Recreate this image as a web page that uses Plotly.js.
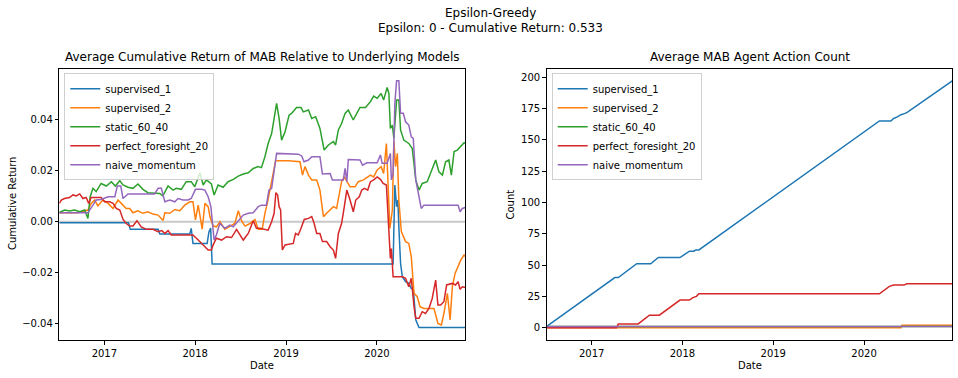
<!DOCTYPE html>
<html>
<head>
<meta charset="utf-8">
<script src="https://cdn.plot.ly/plotly-3.0.1.min.js"></script>
<style>html,body{margin:0;padding:0;background:#fff;}#chart{width:958px;height:378px;}</style>
</head>
<body>
<div id="chart"></div>
<script>
// ---------- DATA ----------
const seriesNames = ['supervised_1', 'supervised_2', 'static_60_40', 'perfect_foresight_20', 'naive_momentum'];
const seriesColors = ['#1f77b4', '#ff7f0e', '#2ca02c', '#d62728', '#9467bd'];

const suptitleLine1 = 'Epsilon-Greedy';
const suptitleLine2 = 'Epsilon: 0 - Cumulative Return: 0.533';
const leftTitle = 'Average Cumulative Return of MAB Relative to Underlying Models';
const rightTitle = 'Average MAB Agent Action Count';
const xLabel = 'Date';
const leftYLabel = 'Cumulative Return';
const rightYLabel = 'Count';
const dateRange = ['2016-07-04', '2020-12-21'];
const yearTicks = ['2017-01-01', '2018-01-01', '2019-01-01', '2020-01-01'];
const yearTickText = ['2017', '2018', '2019', '2020'];
const retTicks = [-0.04, -0.02, 0.00, 0.02, 0.04];
const cntTicks = [0, 25, 50, 75, 100, 125, 150, 175, 200];

// Left: cumulative return relative to models
const sup1Dates = ['2016-07-04','2017-04-08','2017-04-15','2017-08-05','2017-08-12','2017-12-10','2017-12-16','2017-12-23','2018-02-18','2018-02-25','2018-03-04','2018-03-10','2020-03-06','2020-03-13','2020-03-20','2020-03-25','2020-03-29','2020-04-05','2020-04-12','2020-04-25','2020-05-08','2020-05-18','2020-05-26','2020-06-05','2020-06-18','2020-12-21'];
const sup1Ret = [-0.0004,-0.0004,-0.003,-0.003,-0.0048,-0.0048,-0.0026,-0.0085,-0.0085,-0.004,-0.0025,-0.0166,-0.0166,0.0144,0.0059,0.0085,-0.002,-0.0164,-0.0216,-0.0235,-0.0242,-0.0262,-0.0262,-0.0385,-0.0415,-0.0415];

const sup2Dates = ['2016-07-04','2016-09-15','2016-10-27','2016-11-09','2016-11-23','2016-12-06','2016-12-26','2017-01-16','2017-02-05','2017-02-25','2017-03-10','2017-03-30','2017-04-13','2017-04-26','2017-05-16','2017-06-05','2017-06-25','2017-07-15','2017-08-05','2017-08-25','2017-09-01','2017-09-21','2017-10-11','2017-10-31','2017-11-20','2017-12-10','2017-12-23','2018-01-02','2018-01-13','2018-01-24','2018-01-29','2018-02-09','2018-02-22','2018-03-01','2018-03-14','2018-03-27','2018-04-10','2018-04-30','2018-05-20','2018-06-09','2018-06-23','2018-07-06','2018-07-20','2018-08-09','2018-08-29','2018-09-11','2018-09-27','2018-10-08','2018-10-19','2018-11-01','2018-11-10','2018-11-20','2019-01-10','2019-02-26','2019-03-08','2019-03-18','2019-04-01','2019-04-14','2019-05-04','2019-05-17','2019-05-31','2019-06-13','2019-06-27','2019-07-10','2019-07-23','2019-07-30','2019-08-12','2019-08-23','2019-09-02','2019-09-15','2019-10-05','2019-10-18','2019-11-08','2019-12-06','2019-12-19','2020-01-02','2020-01-18','2020-01-28','2020-02-08','2020-02-18','2020-02-22','2020-03-03','2020-03-09','2020-03-16','2020-03-23','2020-03-29','2020-04-08','2020-04-25','2020-05-08','2020-05-18','2020-05-29','2020-06-11','2020-06-22','2020-07-08','2020-08-17','2020-09-02','2020-09-16','2020-09-26','2020-10-10','2020-10-21','2020-10-30','2020-11-10','2020-11-22','2020-12-03','2020-12-16','2020-12-21'];
const sup2Ret = [0.0035,0.0035,0.0046,0.0072,0.0085,0.0062,0.0085,0.0072,0.0052,0.0085,0.0072,0.0052,0.0052,0.0035,0.0043,0.0033,0.0039,0.003,0.0026,0.0005,0.0035,0.0033,0.0048,0.0043,0.0065,0.0078,0.0078,0.0007,0.0065,-0.0007,-0.0029,0.0072,0.0059,0.002,-0.0017,-0.002,0.0,-0.003,-0.002,-0.0007,0.0043,0.0004,-0.0017,-0.0007,0.0009,-0.003,-0.003,0.0033,0.0078,0.0137,0.0189,0.0239,0.0239,0.0235,0.0183,0.0216,0.0183,0.0164,0.0164,0.0124,0.002,0.0033,0.0046,0.0059,0.0052,0.0091,0.0157,0.0176,0.0157,0.0137,0.0137,0.0157,0.0164,0.0183,0.0176,0.0203,0.0216,0.0189,0.0307,0.0085,-0.0026,0.0046,0.0318,0.0216,0.0268,0.0085,-0.0039,-0.0078,-0.0085,-0.0137,-0.0281,-0.0294,-0.0333,-0.034,-0.034,-0.0399,-0.0405,-0.036,-0.0281,-0.0385,-0.0255,-0.0203,-0.0176,-0.015,-0.0131,-0.0137];

const staticDates = ['2016-07-04','2016-07-25','2016-08-14','2016-09-04','2016-09-24','2016-10-14','2016-10-27','2016-11-05','2016-11-16','2016-11-29','2016-12-19','2017-01-09','2017-01-29','2017-02-14','2017-03-04','2017-03-17','2017-04-06','2017-04-26','2017-05-16','2017-06-05','2017-06-25','2017-07-22','2017-08-11','2017-08-24','2017-09-01','2017-09-14','2017-10-04','2017-10-17','2017-11-06','2017-11-26','2017-12-16','2017-12-30','2018-01-20','2018-02-02','2018-02-15','2018-03-07','2018-03-18','2018-04-03','2018-04-23','2018-05-13','2018-06-03','2018-06-23','2018-07-13','2018-08-02','2018-08-22','2018-09-11','2018-09-24','2018-10-08','2018-10-21','2018-11-04','2018-11-24','2018-12-04','2018-12-14','2018-12-28','2019-01-13','2019-01-23','2019-02-12','2019-03-02','2019-03-11','2019-04-01','2019-04-14','2019-04-30','2019-05-17','2019-06-03','2019-06-20','2019-07-10','2019-07-19','2019-07-30','2019-08-12','2019-08-26','2019-09-08','2019-09-28','2019-10-12','2019-10-25','2019-11-16','2019-12-06','2019-12-19','2020-01-02','2020-01-18','2020-01-28','2020-02-11','2020-02-18','2020-02-24','2020-03-03','2020-03-09','2020-03-20','2020-03-29','2020-04-05','2020-04-18','2020-05-08','2020-05-22','2020-06-05','2020-06-18','2020-07-01','2020-07-21','2020-08-04','2020-08-24','2020-09-06','2020-09-20','2020-10-03','2020-10-16','2020-10-26','2020-11-06','2020-11-19','2020-12-03','2020-12-16','2020-12-21'];
const staticRet = [0.0036,0.0046,0.0042,0.0046,0.0039,0.0046,0.0013,0.0098,0.0131,0.0118,0.015,0.014,0.0157,0.014,0.0161,0.0144,0.0135,0.0131,0.0148,0.0127,0.0114,0.0111,0.0111,0.0101,0.0118,0.014,0.0124,0.0131,0.0127,0.0157,0.0157,0.0137,0.0192,0.0144,0.0164,0.0148,0.0105,0.0144,0.0135,0.0157,0.0166,0.0179,0.0187,0.0192,0.0209,0.0216,0.0212,0.0255,0.0307,0.0346,0.0464,0.0405,0.032,0.0353,0.0418,0.0425,0.0448,0.0448,0.0431,0.0438,0.0405,0.0412,0.0366,0.0281,0.0301,0.0314,0.0301,0.036,0.0385,0.0425,0.0438,0.0399,0.0425,0.0448,0.0448,0.0471,0.0493,0.0484,0.0503,0.0477,0.0527,0.0503,0.0366,0.0379,0.0327,0.0477,0.0477,0.036,0.032,0.0307,0.0287,0.0164,0.0124,0.015,0.0157,0.0189,0.0242,0.0196,0.0183,0.0235,0.0242,0.0183,0.0275,0.0281,0.0294,0.031,0.0307];

const pfDates = ['2016-07-04','2016-07-12','2016-07-25','2016-08-14','2016-08-28','2016-09-10','2016-09-24','2016-10-07','2016-10-20','2016-10-30','2016-11-09','2016-12-19','2017-01-02','2017-01-22','2017-02-05','2017-02-18','2017-03-04','2017-03-17','2017-03-30','2017-04-13','2017-04-26','2017-05-12','2017-05-29','2017-06-19','2017-07-15','2017-08-05','2017-08-20','2017-09-01','2017-09-14','2017-09-27','2017-10-24','2017-11-26','2017-12-23','2018-01-13','2018-02-09','2018-02-22','2018-03-07','2018-03-14','2018-03-27','2018-04-17','2018-05-07','2018-05-27','2018-06-16','2018-06-29','2018-07-13','2018-08-02','2018-08-22','2018-09-04','2018-09-18','2018-10-21','2018-11-04','2018-11-14','2018-11-21','2018-11-28','2018-12-04','2018-12-10','2018-12-17','2018-12-28','2019-01-30','2019-02-08','2019-02-19','2019-03-02','2019-03-15','2019-04-01','2019-04-14','2019-04-24','2019-05-04','2019-05-17','2019-05-27','2019-06-13','2019-06-27','2019-07-10','2019-07-19','2019-07-30','2019-08-12','2019-08-23','2019-09-02','2019-09-15','2019-09-28','2019-10-08','2019-10-22','2019-11-01','2019-11-12','2019-11-25','2019-12-06','2019-12-19','2020-01-02','2020-01-15','2020-01-26','2020-02-08','2020-02-18','2020-02-24','2020-02-28','2020-03-06','2020-04-12','2020-04-25','2020-05-08','2020-05-18','2020-05-29','2020-06-05','2020-06-18','2020-07-01','2020-07-14','2020-07-28','2020-08-10','2020-08-24','2020-09-02','2020-09-13','2020-09-26','2020-10-07','2020-10-30','2020-11-12','2020-11-22','2020-11-30','2020-12-09','2020-12-21'];
const pfRet = [0.0072,0.0085,0.0091,0.0095,0.0105,0.0101,0.0109,0.0091,0.0095,0.0072,0.0095,0.0095,0.0078,0.0078,0.0072,0.0052,0.0046,0.0009,-0.0007,-0.0017,-0.0017,0.0004,-0.002,-0.003,-0.003,-0.0039,-0.0035,-0.0046,-0.0035,-0.0052,-0.0052,-0.0052,-0.0052,-0.0072,-0.0098,-0.0111,-0.0111,-0.0091,-0.0065,-0.0072,-0.0059,-0.0062,-0.003,-0.0052,-0.0072,-0.0046,0.0004,-0.0026,-0.0026,-0.0033,0.0,0.0033,0.0114,0.0105,0.0059,0.0046,-0.0111,-0.0091,-0.0085,-0.0046,-0.0052,-0.0026,0.0009,0.0013,0.002,-0.0007,-0.0046,-0.0046,-0.0078,-0.0078,-0.0098,-0.0111,-0.0144,-0.0046,-0.0007,0.0059,0.0124,0.0085,0.0039,0.0085,0.0098,0.0124,0.0131,0.0124,0.0157,0.0164,0.0176,0.0166,0.015,0.0144,-0.0072,-0.0144,-0.0105,-0.0216,-0.0216,-0.0222,-0.0255,-0.0222,-0.0333,-0.0379,-0.0379,-0.0353,-0.036,-0.034,-0.0301,-0.0229,-0.0327,-0.0327,-0.0314,-0.0248,-0.0242,-0.0248,-0.0235,-0.0265,-0.0255,-0.0258];

const nmDates = ['2016-07-04','2016-10-27','2016-11-16','2016-11-29','2016-12-19','2017-01-16','2017-02-12','2017-02-22','2017-03-08','2017-03-17','2017-04-06','2017-07-22','2017-08-05','2017-08-18','2017-09-01','2017-09-21','2017-10-11','2017-10-24','2017-11-13','2017-12-03','2017-12-16','2018-01-02','2018-01-26','2018-02-09','2018-02-22','2018-03-05','2018-03-10','2018-03-18','2018-03-27','2018-04-10','2018-04-30','2018-05-20','2018-06-03','2018-06-23','2018-07-13','2018-08-02','2018-08-22','2018-09-11','2018-09-24','2018-10-14','2018-10-24','2018-11-04','2018-11-14','2018-11-24','2019-02-19','2019-03-05','2019-03-14','2019-04-01','2019-04-14','2019-05-17','2019-05-27','2019-06-27','2019-07-06','2019-08-19','2019-08-26','2019-09-02','2019-09-08','2019-10-05','2019-10-25','2019-11-04','2019-11-22','2020-01-02','2020-01-15','2020-01-22','2020-02-11','2020-02-24','2020-02-28','2020-03-06','2020-03-13','2020-03-20','2020-03-29','2020-04-05','2020-04-16','2020-04-25','2020-05-08','2020-05-18','2020-05-26','2020-06-05','2020-06-18','2020-06-27','2020-07-08','2020-11-22','2020-11-30','2020-12-09','2020-12-21'];
const nmRet = [0.0035,0.0035,0.0065,0.0085,0.0087,0.0098,0.0098,0.014,0.014,0.0091,0.0109,0.0109,0.0131,0.0131,0.0078,0.0085,0.0078,0.0091,0.0085,0.0085,0.0091,0.0127,0.0127,0.0124,0.0098,0.0059,0.0007,-0.0072,-0.0052,-0.0007,-0.0026,-0.0013,-0.002,0.0004,0.0026,0.0033,0.0035,0.0059,0.0065,0.0065,0.0124,0.0131,0.0203,0.0268,0.0265,0.0258,0.0235,0.0242,0.0255,0.0255,0.0187,0.0189,0.0164,0.0164,0.0209,0.0157,0.0244,0.0244,0.0242,0.0222,0.0231,0.0231,0.0262,0.0229,0.0229,0.0268,0.0164,0.0189,0.0464,0.0553,0.0553,0.0425,0.0425,0.0392,0.0379,0.0333,0.0327,0.0164,0.0105,0.0052,0.0065,0.0065,0.0039,0.0052,0.0056];

// Right: average action count per arm
const sup1CntDates = ['2016-07-04','2017-04-04','2017-04-18','2017-07-01','2017-08-26','2017-09-26','2017-12-22','2018-01-29','2018-02-16','2018-02-23','2018-03-08','2020-03-03','2020-04-18','2020-04-29','2020-05-12','2020-05-29','2020-06-14','2020-06-24','2020-12-21'];
const sup1Cnt = [1,40,40,51,51,56,56,61,61,62,62,165,165,167,168,170,171,172,197];
const sup2CntDates = ['2016-07-04','2020-05-29','2020-06-01','2020-12-21'];
const sup2Cnt = [0,0,2,2];
const staticCntDates = ['2016-07-04','2020-12-21'];
const staticCnt = [1,1];
const pfCntDates = ['2016-07-04','2017-04-11','2017-04-18','2017-07-07','2017-08-21','2017-09-30','2017-12-22','2018-01-29','2018-02-12','2018-02-26','2018-03-08','2020-03-03','2020-04-12','2020-04-29','2020-06-10','2020-06-21','2020-12-21'];
const pfCnt = [0,0,3,3,10,10,22,22,24,25,27,27,33,34,34,35,35];
const nmCntDates = ['2016-07-04','2020-12-21'];
const nmCnt = [1,1];

// ---------- BUILD ----------
const retX = [sup1Dates, sup2Dates, staticDates, pfDates, nmDates];
const retY = [sup1Ret, sup2Ret, staticRet, pfRet, nmRet];
const cntX = [sup1CntDates, sup2CntDates, staticCntDates, pfCntDates, nmCntDates];
const cntY = [sup1Cnt, sup2Cnt, staticCnt, pfCnt, nmCnt];

const traces = [];
seriesNames.forEach((name, i) => {
  traces.push({
    type: 'scatter', mode: 'lines', name: name,
    x: retX[i], y: retY[i], xaxis: 'x', yaxis: 'y',
    line: {color: seriesColors[i], width: 1.5},
    legend: 'legend', hoverinfo: 'x+y+name'
  });
});
seriesNames.forEach((name, i) => {
  traces.push({
    type: 'scatter', mode: 'lines', name: name,
    x: cntX[i], y: cntY[i], xaxis: 'x2', yaxis: 'y2',
    line: {color: seriesColors[i], width: 1.5},
    legend: 'legend2', hoverinfo: 'x+y+name'
  });
});

const FONT = 'DejaVu Sans, Liberation Sans, sans-serif';
const W = 958, H = 378;
const px = v => v / W;
const py = v => (H - v) / H;

const axisCommon = {
  showgrid: false, zeroline: false, showline: true, mirror: true,
  linecolor: '#000', linewidth: 1, ticks: 'outside', ticklen: 3.5,
  tickwidth: 1, tickcolor: '#000', tickfont: {family: FONT, size: 10, color: '#000'},
  automargin: false, fixedrange: true
};

const yDom = [py(340), py(68.5)];

const layout = {
  width: W, height: H,
  margin: {l: 0, r: 0, t: 0, b: 0, pad: 0},
  paper_bgcolor: '#fff', plot_bgcolor: '#fff',
  font: {family: FONT, size: 10, color: '#000'},
  showlegend: true,
  xaxis: Object.assign({}, axisCommon, {
    domain: [px(59.3), px(465.3)], type: 'date', range: dateRange,
    tickmode: 'array', tickvals: yearTicks, ticktext: yearTickText, anchor: 'y'
  }),
  yaxis: Object.assign({}, axisCommon, {
    domain: yDom, range: [-0.0464, 0.0601], tickmode: 'array',
    tickvals: retTicks, tickformat: '.2f', anchor: 'x'
  }),
  xaxis2: Object.assign({}, axisCommon, {
    domain: [px(546.7), px(952.3)], type: 'date', range: dateRange,
    tickmode: 'array', tickvals: yearTicks, ticktext: yearTickText, anchor: 'y2'
  }),
  yaxis2: Object.assign({}, axisCommon, {
    domain: yDom, range: [-9.85, 206.85], tickmode: 'array',
    tickvals: cntTicks, anchor: 'x2'
  }),
  legend: {
    x: px(64.3), y: py(73.3), xanchor: 'left', yanchor: 'top',
    bgcolor: 'rgba(255,255,255,0.8)', bordercolor: '#d0d0d0', borderwidth: 1,
    font: {family: FONT, size: 10, color: '#000'}
  },
  legend2: {
    x: px(551.7), y: py(73.3), xanchor: 'left', yanchor: 'top',
    bgcolor: 'rgba(255,255,255,0.8)', bordercolor: '#d0d0d0', borderwidth: 1,
    font: {family: FONT, size: 10, color: '#000'}
  },
  shapes: [{
    type: 'line', xref: 'x domain', yref: 'y', x0: 0, x1: 1, y0: 0, y1: 0,
    line: {color: '#c8c8c8', width: 2}, layer: 'below'
  }],
  annotations: [
    {text: suptitleLine1, x: px(490), y: py(13), xref: 'paper', yref: 'paper', xanchor: 'center', yanchor: 'middle', showarrow: false, font: {family: FONT, size: 12, color: '#000'}},
    {text: suptitleLine2, x: px(490), y: py(28), xref: 'paper', yref: 'paper', xanchor: 'center', yanchor: 'middle', showarrow: false, font: {family: FONT, size: 12, color: '#000'}},
    {text: leftTitle, x: px(262.3), y: py(57.5), xref: 'paper', yref: 'paper', xanchor: 'center', yanchor: 'middle', showarrow: false, font: {family: FONT, size: 12, color: '#000'}},
    {text: rightTitle, x: px(749.5), y: py(57.5), xref: 'paper', yref: 'paper', xanchor: 'center', yanchor: 'middle', showarrow: false, font: {family: FONT, size: 12, color: '#000'}},
    {text: xLabel, x: px(262.3), y: py(365), xref: 'paper', yref: 'paper', xanchor: 'center', yanchor: 'middle', showarrow: false, font: {family: FONT, size: 10, color: '#000'}},
    {text: xLabel, x: px(749.5), y: py(365), xref: 'paper', yref: 'paper', xanchor: 'center', yanchor: 'middle', showarrow: false, font: {family: FONT, size: 10, color: '#000'}},
    {text: leftYLabel, x: px(12), y: py(204), xref: 'paper', yref: 'paper', xanchor: 'center', yanchor: 'middle', textangle: -90, showarrow: false, font: {family: FONT, size: 10, color: '#000'}},
    {text: rightYLabel, x: px(509.5), y: py(204), xref: 'paper', yref: 'paper', xanchor: 'center', yanchor: 'middle', textangle: -90, showarrow: false, font: {family: FONT, size: 10, color: '#000'}}
  ]
};

Plotly.newPlot('chart', traces, layout, {displayModeBar: false, staticPlot: true});
</script>
</body>
</html>
